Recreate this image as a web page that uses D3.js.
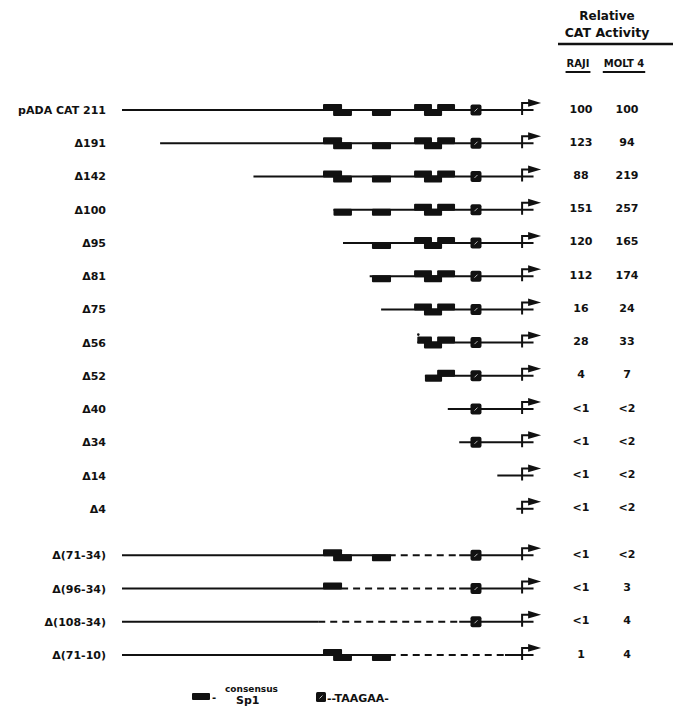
<!DOCTYPE html>
<html>
<head>
<meta charset="utf-8">
<script src="https://cdn.jsdelivr.net/npm/d3@7"></script>
<style>
    body { margin: 0; background: #fff; }
    text { font-family: "DejaVu Sans", sans-serif; font-weight: bold; fill: #111; }
</style>
</head>
<body>
<svg id="chart"></svg>
<script>
// constructs, 5' end (bp upstream of the start site) and deleted stretch if any
const constructs = ["pADA CAT 211", "Δ191", "Δ142", "Δ100", "Δ95", "Δ81", "Δ75", "Δ56", "Δ52",
    "Δ40", "Δ34", "Δ14", "Δ4", "Δ(71-34)", "Δ(96-34)", "Δ(108-34)", "Δ(71-10)"];
const starts = [-211, -191, -142, -100, -95, -81, -75, -56, -52, -40, -34, -14, -4, -211, -211, -211, -211];
const deletions = [null, null, null, null, null, null, null, null, null, null, null, null, null,
    [-71, -34], [-96, -34], [-108, -34], [-71, -10]];

// promoter elements (bp)
const sp1Sites = {
    A1: { from: -105.5, to: -95.5, up: true },
    A2: { from: -100.2, to: -90.3, up: false },
    B: { from: -79.8, to: -69.8, up: false },
    C: { from: -57.7, to: -48.3, up: true },
    D: { from: -52.5, to: -43, up: false },
    E: { from: -45.6, to: -36.2, up: true }
};
const taagaaPos = -25.2;
const startSite = -1;
const lineEnd = 5;

const rowSites = [
    ["A1", "A2", "B", "C", "D", "E"],
    ["A1", "A2", "B", "C", "D", "E"],
    ["A1", "A2", "B", "C", "D", "E"],
    ["A2", "B", "C", "D", "E"],
    ["B", "C", "D", "E"],
    ["B", "C", "D", "E"],
    ["C", "D", "E"],
    ["C", "D", "E"],
    ["D", "E"],
    [], [], [], [],
    ["A1", "A2", "B"],
    ["A1"],
    [],
    ["A1", "A2", "B"]
];
const rowTaagaa = [1, 1, 1, 1, 1, 1, 1, 1, 1, 1, 1, 0, 0, 1, 1, 1, 0];

// relative CAT activity
const raji = ["100", "123", "88", "151", "120", "112", "16", "28", "4", "<1", "<1", "<1", "<1", "<1", "<1", "<1", "1"];
const molt4 = ["100", "94", "219", "257", "165", "174", "24", "33", "7", "<2", "<2", "<2", "<2", "<2", "3", "4", "4"];

const WIDTH = 677, HEIGHT = 708;

const svg = d3.select("#chart")
    .attr("width", WIDTH)
    .attr("height", HEIGHT);

const x = d3.scaleLinear()
    .domain([-211, 0])
    .range([122, 524]);

const y = d3.scaleLinear()
    .domain([0, 16.4])
    .range([110, 655]);

const rowY = i => y(i < 13 ? i : i + 0.4);

const rows = constructs.map((name, i) => ({
    name, i,
    start: starts[i],
    del: deletions[i],
    sites: rowSites[i].map(k => sp1Sites[k]),
    taagaa: rowTaagaa[i],
    raji: raji[i],
    molt: molt4[i]
}));

const g = svg.selectAll("g.row")
    .data(rows)
    .enter()
    .append("g")
    .attr("class", "row")
    .attr("transform", d => `translate(0,${rowY(d.i)})`);

g.append("text")
    .attr("x", 106)
    .attr("y", 4)
    .attr("text-anchor", "end")
    .style("font-size", "11px")
    .text(d => d.name);

// solid / dashed backbone
g.each(function (d) {
    const sel = d3.select(this);
    const segs = d.del
        ? [[d.start, d.del[0], false], [d.del[0], d.del[1], true], [d.del[1], lineEnd, false]]
        : [[d.start, lineEnd, false]];
    segs.forEach(([a, b, dashed]) => {
        sel.append("line")
            .attr("x1", x(a)).attr("x2", x(b))
            .attr("y1", 0).attr("y2", 0)
            .style("stroke", "#111")
            .style("stroke-width", 2)
            .style("stroke-dasharray", dashed ? "7,5" : null);
    });
});

g.selectAll("rect.sp1")
    .data(d => d.sites.map(s => ({ ...s, from: Math.max(s.from, d.start) })))
    .enter()
    .append("rect")
    .attr("class", "sp1")
    .attr("x", s => x(s.from))
    .attr("width", s => x(s.to) - x(s.from))
    .attr("y", s => s.up ? -6 : -1)
    .attr("height", 7)
    .attr("rx", 1)
    .style("fill", "#111");

const tg = g.filter(d => d.taagaa)
    .append("g")
    .attr("transform", `translate(${x(taagaaPos)},0)`);

tg.append("rect")
    .attr("x", -5.5).attr("y", -5.5)
    .attr("width", 11).attr("height", 11)
    .attr("rx", 2)
    .style("fill", "#111");

tg.append("line")
    .attr("x1", -1.5).attr("y1", 1.5)
    .attr("x2", 1.5).attr("y2", -1.5)
    .style("stroke", "#bbb")
    .style("stroke-width", 1);

// transcription start arrow
const sx = x(startSite);
g.append("path")
    .attr("d", `M${sx},5 V-7 H${sx + 8}`)
    .style("fill", "none")
    .style("stroke", "#111")
    .style("stroke-width", 2);

g.append("path")
    .attr("d", `M${sx + 6},-11 L${sx + 19},-7 L${sx + 6},-3.3 Z`)
    .style("fill", "#111");

// mark above Δ56
g.filter(d => d.name === "Δ56")
    .append("circle")
    .attr("cx", d => x(d.start) + 1)
    .attr("cy", -8)
    .attr("r", 1.3)
    .style("fill", "#111");

g.append("text")
    .attr("x", 581)
    .attr("y", 2.5)
    .attr("text-anchor", "middle")
    .style("font-size", "11px")
    .text(d => d.raji);

g.append("text")
    .attr("x", 627)
    .attr("y", 2.5)
    .attr("text-anchor", "middle")
    .style("font-size", "11px")
    .text(d => d.molt);

// header
const header = svg.append("g");

header.append("text")
    .attr("x", 607).attr("y", 20)
    .attr("text-anchor", "middle")
    .style("font-size", "12px")
    .text("Relative");

header.append("text")
    .attr("x", 607).attr("y", 37)
    .attr("text-anchor", "middle")
    .style("font-size", "12.5px")
    .text("CAT Activity");

header.append("line")
    .attr("x1", 558).attr("x2", 673)
    .attr("y1", 44).attr("y2", 44)
    .style("stroke", "#111")
    .style("stroke-width", 2.5);

[["RAJI", 578], ["MOLT 4", 624]].forEach(([t, cx]) => {
    const txt = header.append("text")
        .attr("x", cx).attr("y", 67)
        .attr("text-anchor", "middle")
        .style("font-size", "10px")
        .text(t);
    const w = txt.node().getComputedTextLength();
    header.append("line")
        .attr("x1", cx - w / 2 - 1).attr("x2", cx + w / 2 + 1)
        .attr("y1", 72).attr("y2", 72)
        .style("stroke", "#111")
        .style("stroke-width", 2);
});

// legend
const legend = svg.append("g");

legend.append("rect")
    .attr("x", 192).attr("y", 693)
    .attr("width", 18).attr("height", 7)
    .attr("rx", 1)
    .style("fill", "#111");

legend.append("text")
    .attr("x", 212).attr("y", 701)
    .style("font-size", "10px")
    .text("-");

legend.append("text")
    .attr("x", 225).attr("y", 692)
    .style("font-size", "9px")
    .text("consensus");

legend.append("text")
    .attr("x", 236).attr("y", 704)
    .style("font-size", "11px")
    .text("Sp1");

legend.append("rect")
    .attr("x", 316).attr("y", 692)
    .attr("width", 10).attr("height", 10)
    .attr("rx", 1.5)
    .style("fill", "#111");

legend.append("line")
    .attr("x1", 319.5).attr("y1", 698.5)
    .attr("x2", 322.5).attr("y2", 695.5)
    .style("stroke", "#bbb")
    .style("stroke-width", 1);

legend.append("text")
    .attr("x", 327).attr("y", 701.5)
    .style("font-size", "11px")
    .text("--TAAGAA-");
</script>
</body>
</html>
